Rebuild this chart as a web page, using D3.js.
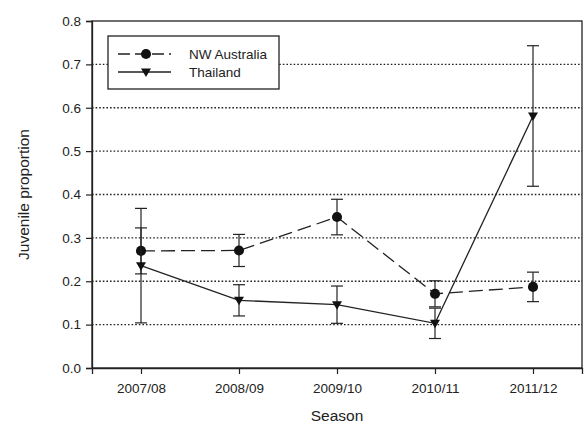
<!DOCTYPE html>
<html><head><meta charset="utf-8">
<script src="https://cdn.jsdelivr.net/npm/d3@7"></script>
<style>body{margin:0;background:#fff}svg{display:block}text{font-family:"Liberation Sans",Arial,sans-serif;fill:#222}</style>
</head><body><svg id="c" width="585" height="424"></svg>
<script>
const seasons = ["2007/08","2008/09","2009/10","2010/11","2011/12"];
const nwAustralia = [0.270, 0.271, 0.348, 0.171, 0.187];
const nwAustraliaErr = [0.053, 0.037, 0.041, 0.030, 0.034];
const thailand = [0.236, 0.156, 0.146, 0.103, 0.581];
const thailandErr = [0.132, 0.036, 0.043, 0.035, 0.162];
const yTicks = [0.0,0.1,0.2,0.3,0.4,0.5,0.6,0.7,0.8];
const gridTicks = [0.1,0.2,0.3,0.4,0.5,0.6,0.7];

const svg = d3.select("#c");
const L=92, R=582, T=21, B=368;
const x = d3.scalePoint().domain(seasons).range([L,R]).padding(0.5);
const y = d3.scaleLinear().domain([0,0.8]).range([B,T]);

// gridlines
svg.append("g").selectAll("line").data(gridTicks).join("line")
  .attr("x1",L).attr("x2",R).attr("y1",d=>y(d)).attr("y2",d=>y(d))
  .attr("stroke","#222").attr("stroke-width",1.4).attr("stroke-dasharray","1.6,2");

// frame
svg.append("rect").attr("x",L).attr("y",T).attr("width",R-L).attr("height",B-T)
  .attr("fill","none").attr("stroke","#222").attr("stroke-width",1.3);

// axes
const yAx = svg.append("g").attr("transform",`translate(${L},0)`)
  .call(d3.axisLeft(y).tickValues(yTicks).tickFormat(d3.format(".1f")).tickSize(6).tickPadding(5));
const xAx = svg.append("g").attr("transform",`translate(0,${B})`)
  .call(d3.axisBottom(x).tickSize(6).tickPadding(9));
[yAx,xAx].forEach(a=>{a.select(".domain").attr("stroke","#222").attr("stroke-width",1.3);
  a.selectAll(".tick line").attr("stroke","#222").attr("stroke-width",1.2);
  a.selectAll("text").style("font-size","13.5px").attr("fill","#222").style("font-family","Liberation Sans, Arial, sans-serif");});

// axis titles
svg.append("text").attr("x",(L+R)/2).attr("y",421).attr("text-anchor","middle")
  .style("font-size","15.5px").text("Season");
svg.append("text").attr("transform",`translate(29,${(T+B)/2}) rotate(-90)`).attr("text-anchor","middle")
  .style("font-size","15.5px").text("Juvenile proportion");

function series(vals, errs, dash, marker){
  const g = svg.append("g");
  const pts = seasons.map((s,i)=>({s,v:vals[i],e:errs[i]}));
  // error bars
  pts.forEach(p=>{
    g.append("line").attr("x1",x(p.s)).attr("x2",x(p.s)).attr("y1",y(p.v+p.e)).attr("y2",y(p.v-p.e))
      .attr("stroke","#222").attr("stroke-width",1.2);
    [p.v+p.e,p.v-p.e].forEach(v=>g.append("line").attr("x1",x(p.s)-6).attr("x2",x(p.s)+6)
      .attr("y1",y(v)).attr("y2",y(v)).attr("stroke","#222").attr("stroke-width",1.2));
  });
  g.append("path").datum(pts).attr("fill","none").attr("stroke","#222").attr("stroke-width",1.3)
    .attr("stroke-dasharray",dash).attr("d",d3.line().x(d=>x(d.s)).y(d=>y(d.v)));
  g.selectAll(".m").data(pts).join("path").attr("fill","#111")
    .attr("transform",d=>`translate(${x(d.s)},${y(d.v)})`).attr("d",marker);
}
const circ = d3.symbol().type(d3.symbolCircle).size(80)();
const tri = "M-5,-3.5L5,-3.5L0,5Z";
series(nwAustralia, nwAustraliaErr, "14,6", circ);
series(thailand, thailandErr, null, tri);

// legend
const lg = svg.append("g");
lg.append("rect").attr("x",108).attr("y",36).attr("width",171).attr("height",53)
  .attr("fill","#fff").attr("stroke","#222").attr("stroke-width",1.3);
const leg = [{n:"NW Australia",dash:"14,6",m:circ,y:54},{n:"Thailand",dash:null,m:tri,y:72}];
leg.forEach(d=>{
  lg.append("line").attr("x1",118).attr("x2",171).attr("y1",d.y).attr("y2",d.y)
    .attr("stroke","#222").attr("stroke-width",1.3).attr("stroke-dasharray",d.dash ? "12,5" : null);
  lg.append("path").attr("d",d.m).attr("transform",`translate(146,${d.y})`).attr("fill","#111");
  lg.append("text").attr("x",189).attr("y",d.y+4.5).style("font-size","13.5px").text(d.n);
});
</script></body></html>
